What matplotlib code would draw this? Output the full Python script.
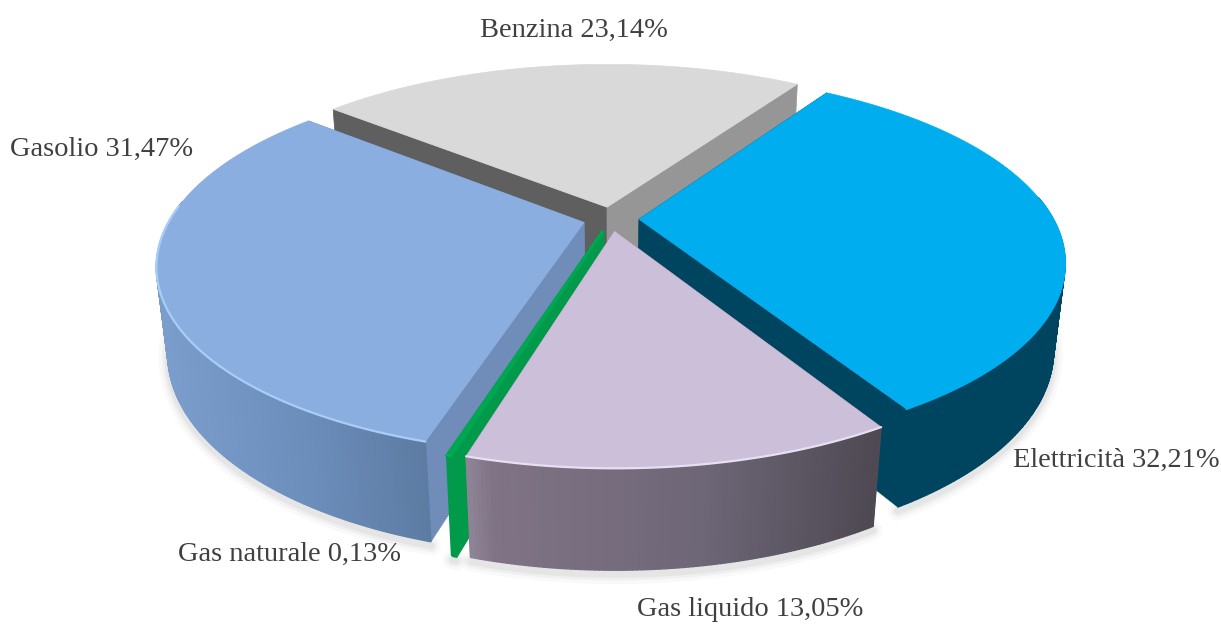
import numpy as np
import matplotlib
matplotlib.use('Agg')
import matplotlib.pyplot as plt
from matplotlib.collections import PolyCollection
from matplotlib.colors import to_rgb
from matplotlib.patches import Polygon

names = ['Benzina', 'Elettricità', 'Gas liquido', 'Gas naturale', 'Gasolio']
shares = [23.14, 32.21, 13.05, 0.13, 31.47]

# top colour, face at start angle, face at end angle, rim light
top_cols = ['#d9d9d9', '#00aeef', '#cbbfd9', '#00a651', '#8aaedf']
start_face = ['#5f5f5f', '#004560', '#4d4753', '#009a4a', '#6f8db8']
end_face = ['#969696', '#004560', '#7a6f82', '#009a4a', '#6f8db8']
rim_cols = ['#d9d9d9', '#00aeef', '#e8dff0', '#00b35a', '#a8cdf7']
edge_w = [.5, .5, .5, 2, .5]
# outer wall gradient along screen x
wall_x = [[0, 1221], [0, 1221], [460, 490, 700, 875], [440, 470], [160, 300, 435]]
wall_c = [['#aaaaaa', '#aaaaaa'], ['#004560', '#004560'],
          ['#918a9b', '#807386', '#6e6777', '#4f4954'],
          ['#009a4a', '#009a4a'], ['#7b9dcc', '#6c8ebb', '#5c7aa1']]
label_pos = [(574, 30), (1116, 460), (750, 609), (290, 554), (102, 149)]

CX, CY = 611, 219
R = 414
EXPLODE = 28
HEIGHT = 96
TILT = np.radians(25.6)
DIST = 1700
START = -50


def project(x, y, z):
    # perspective view of the pie plane, x right, y to the back, z up
    up = y * np.sin(TILT) + z * np.cos(TILT)
    depth = y * np.cos(TILT) - z * np.sin(TILT)
    s = DIST / (DIST + depth)
    return np.column_stack([CX + x * s, CY - up * s])


def wall_colour(sx, stops, cols):
    rgb = np.array([to_rgb(c) for c in cols])
    return [np.interp(sx, stops, rgb[:, i]) for i in range(3)]


fig = plt.figure(figsize=(12.21, 6.24), dpi=100)
ax = fig.add_axes([0, 0, 1, 1])
ax.set_xlim(0, 1221)
ax.set_ylim(624, 0)
ax.axis('off')

total = sum(shares)
edges = START + np.cumsum([0] + shares) / total * 360
slices = []
for i in range(len(shares)):
    a0, a1 = np.radians(edges[i]), np.radians(edges[i + 1])
    mid = (a0 + a1) / 2
    slices.append((i, a0, a1, EXPLODE * np.sin(mid), EXPLODE * np.cos(mid)))

# soft shadow under the front of the pie
for i, a0, a1, ox, oy in slices:
    th = np.linspace(a0, a1, 120)
    for w, al in [(14, .03), (9, .05), (5, .07)]:
        p = project(ox + R * np.sin(th), oy + R * np.cos(th), np.full(120, -HEIGHT - 4))
        ax.plot(p[:, 0], p[:, 1], color='#555555', alpha=al, lw=w, zorder=1,
                solid_capstyle='round')

# back to front drawing order
order = [0, 1, 4, 3, 2]
for n, (i, a0, a1, ox, oy) in enumerate(slices[j] for j in order):
    z = 10 + n * 5
    th = np.linspace(a0, a1, max(int(np.degrees(a1 - a0)) * 2, 2))
    ax_x = ox + R * np.sin(th)
    ax_y = oy + R * np.cos(th)

    # radial cut faces
    for ang, col in ((a0, start_face[i]), (a1, end_face[i])):
        ex, ey = ox + R * np.sin(ang), oy + R * np.cos(ang)
        p = project(np.array([ox, ex, ex, ox]), np.array([oy, ey, ey, oy]),
                    np.array([0, 0, -HEIGHT, -HEIGHT]))
        ax.add_patch(Polygon(p, closed=True, fc=col, ec=col, lw=edge_w[i], zorder=z))

    # outer wall as thin quads so it can carry the gradient
    hi = project(ax_x, ax_y, np.zeros_like(th))
    lo = project(ax_x, ax_y, np.full_like(th, -HEIGHT))
    quads, cols = [], []
    for k in range(len(th) - 1):
        if np.cos((th[k] + th[k + 1]) / 2) > 0.12:
            continue
        quads.append([hi[k], hi[k + 1], lo[k + 1], lo[k]])
        cols.append(wall_colour((hi[k, 0] + hi[k + 1, 0]) / 2, wall_x[i], wall_c[i]))
    if quads:
        ax.add_collection(PolyCollection(quads, facecolors=cols, edgecolors=cols,
                                         linewidths=1, zorder=z + 1))

    # top of the slice
    apex = project(np.array([ox]), np.array([oy]), np.array([0.]))
    top = np.vstack([apex, hi])
    ax.add_patch(Polygon(top, closed=True, fc=top_cols[i], ec=top_cols[i], lw=edge_w[i], zorder=z + 2))

    # light rim along the front edge
    front = np.cos(th) < 0.1
    if front.any():
        ax.plot(hi[front, 0], hi[front, 1], color=rim_cols[i], lw=1.6, zorder=z + 3,
                solid_capstyle='round')

for name, val, (lx, ly) in zip(names, shares, label_pos):
    txt = name + ' ' + f'{val:.2f}'.replace('.', ',') + '%'
    ax.text(lx, ly, txt, ha='center', va='center', fontsize=20.5,
            family='Liberation Serif', color='#404040', zorder=60)

fig.savefig('out.png', dpi=100, facecolor='white')
